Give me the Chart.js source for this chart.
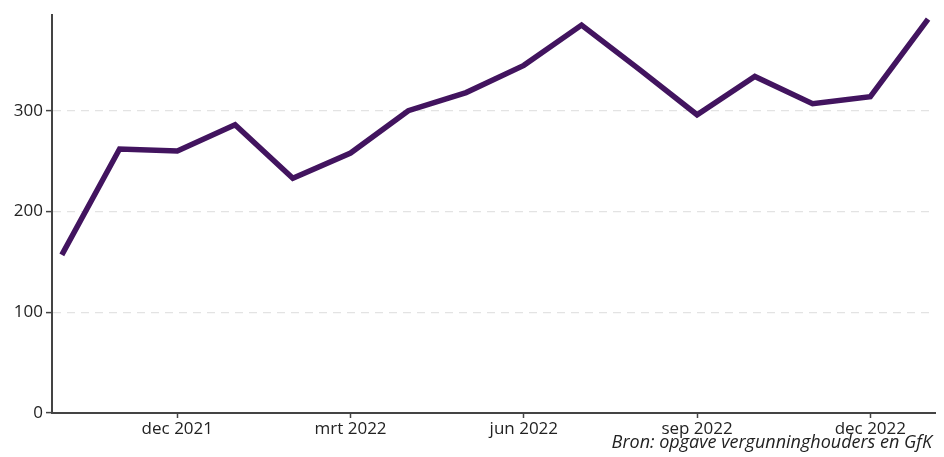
<!DOCTYPE html>
<html>
<head>
<meta charset="utf-8">
<script src="https://cdn.jsdelivr.net/npm/chart.js@4.4.0/dist/chart.umd.min.js"></script>
<style>
  html, body { margin: 0; padding: 0; background: #fff; }
  #wrap { width: 944px; height: 457px; position: relative; }
</style>
</head>
<body>
<div id="wrap"><canvas id="chart"></canvas></div>
<script>
// maanden okt 2021 t/m jan 2023
const months = ['okt 2021', 'nov 2021', 'dec 2021', 'jan 2022', 'feb 2022', 'mrt 2022', 'apr 2022', 'mei 2022',
  'jun 2022', 'jul 2022', 'aug 2022', 'sep 2022', 'okt 2022', 'nov 2022', 'dec 2022', 'jan 2023'];
const values = [157, 262, 260, 286, 233, 258, 300, 318, 345, 385, 341, 296, 334, 307, 314, 391];
const xTickIdx = [2, 5, 8, 11, 14];
const yTicks = [0, 100, 200, 300];
const source = 'Bron: opgave vergunninghouders en GfK';

const FONT = '"Open Sans", "Noto Sans", sans-serif';

// source text under the x axis, right aligned
const sourcePlugin = {
  id: 'sourceText',
  afterDraw(chart) {
    const ctx = chart.ctx;
    ctx.save();
    ctx.font = 'italic 18px ' + FONT;
    ctx.fillStyle = '#222';
    ctx.textAlign = 'right';
    ctx.textBaseline = 'alphabetic';
    ctx.fillText(source, 932, 448);
    ctx.restore();
  }
};

new Chart(document.getElementById('chart'), {
  type: 'line',
  data: {
    datasets: [{
      data: values.map((v, i) => ({ x: i, y: v })),
      borderColor: '#42145f',
      borderWidth: 5.5,
      pointRadius: 0,
      tension: 0,
      borderJoinStyle: 'miter',
      fill: false
    }]
  },
  options: {
    responsive: true,
    maintainAspectRatio: false,
    animation: false,
    layout: { padding: { top: 15, right: 9, bottom: 0, left: 0 } },
    plugins: { legend: { display: false }, tooltip: { enabled: false } },
    scales: {
      x: {
        type: 'linear',
        min: -0.17,
        max: 15.12,
        afterBuildTicks: axis => { axis.ticks = xTickIdx.map(v => ({ value: v })); },
        afterFit: axis => { axis.height = 44; },
        ticks: {
          callback: v => months[v],
          color: '#222',
          font: { family: FONT, size: 17 },
          padding: 1,
          maxRotation: 0
        },
        grid: { drawOnChartArea: false, drawTicks: true, tickLength: 5, tickColor: '#444', tickWidth: 1.5 },
        border: { color: '#444', width: 2 }
      },
      y: {
        min: 0,
        max: 395,
        afterBuildTicks: axis => { axis.ticks = yTicks.map(v => ({ value: v })); },
        afterFit: axis => { axis.width = 52; },
        ticks: {
          color: '#222',
          font: { family: FONT, size: 17 },
          padding: 3
        },
        grid: {
          color: c => c.tick && c.tick.value === 0 ? 'rgba(0,0,0,0)' : '#e3e3e3',
          lineWidth: 1.2,
          drawTicks: true,
          tickLength: 6,
          tickColor: '#444',
          tickWidth: 1.5
        },
        border: { color: '#444', width: 2, dash: [8, 6] }
      }
    }
  },
  plugins: [sourcePlugin]
});
</script>
</body>
</html>
